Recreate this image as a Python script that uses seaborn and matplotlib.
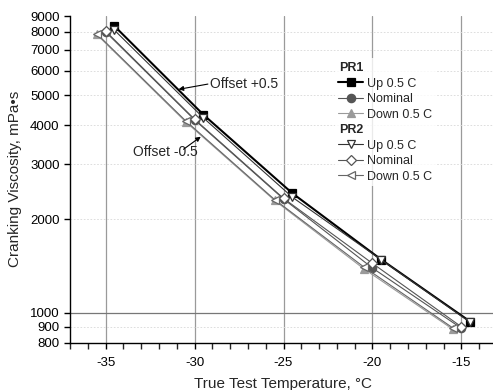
import matplotlib
matplotlib.use("Agg")
import matplotlib.pyplot as plt
from matplotlib.lines import Line2D
from matplotlib.ticker import FixedLocator, MultipleLocator
import seaborn as sns
import pandas as pd

sns.set_style("white")
plt.rcParams['font.family'] = ['Liberation Sans', 'DejaVu Sans']

# Data
pr1_up_t = [-34.5, -29.5, -24.5, -19.5, -14.5]
pr1_up_v = [8350, 4330, 2420, 1480, 935]
pr1_nom_t = [-35.0, -30.0, -25.0, -20.0, -15.0]
pr1_nom_v = [8000, 4170, 2320, 1391, 890]
pr1_down_t = [-35.5, -30.5, -25.5, -20.5, -15.5]
pr1_down_v = [7850, 4110, 2295, 1385, 885]

pr2_up_t = [-34.5, -29.5, -24.5, -19.5, -14.5]
pr2_up_v = [8100, 4230, 2350, 1477, 930]
pr2_nom_t = [-35.0, -30.0, -25.0, -20.0, -15.0]
pr2_nom_v = [8050, 4190, 2331, 1440, 900]
pr2_down_t = [-35.5, -30.5, -25.5, -20.5, -15.5]
pr2_down_v = [7900, 4140, 2310, 1404, 894]

y_ticks = [800, 900, 1000, 2000, 3000, 4000, 5000, 6000, 7000, 8000, 9000]
x_ticks = [-35, -30, -25, -20, -15]

fig = plt.figure(figsize=(4.93, 3.90), dpi=100)
ax = fig.add_axes([70/493, 1 - 342.7/390, (497 - 70)/493, (342.7 - 16)/390])

series = [
    (pr1_up_t, pr1_up_v, 's', '#000000', '#000000', 1.5, 'Up 0.5 C'),
    (pr1_nom_t, pr1_nom_v, 'o', '#555555', '#555555', 0.8, 'Nominal'),
    (pr1_down_t, pr1_down_v, '^', '#9a9a9a', '#9a9a9a', 0.8, 'Down 0.5 C'),
    (pr2_up_t, pr2_up_v, 'v', '#333333', 'white', 0.8, 'Up 0.5 C'),
    (pr2_nom_t, pr2_nom_v, 'D', '#555555', 'white', 0.8, 'Nominal'),
    (pr2_down_t, pr2_down_v, '<', '#666666', 'white', 0.8, 'Down 0.5 C'),
]

handles = []
for i, (t, v, m, c, fc, lw, lab) in enumerate(series):
    df = pd.DataFrame({'t': t, 'v': v})
    ms = 6 if m != 'D' else 5.5
    sns.lineplot(data=df, x='t', y='v', ax=ax, color=c, lw=lw, marker=m,
                 markersize=ms, markerfacecolor=fc, markeredgecolor=c,
                 markeredgewidth=0.9, zorder=3 + i, legend=False)
    handles.append(Line2D([], [], color=c, lw=lw, marker=m, markersize=ms,
                          markerfacecolor=fc, markeredgecolor=c, markeredgewidth=0.9))

ax.set_yscale('log')
ax.set_ylim(800, 9000)
ax.set_xlim(-37, -13)
ax.yaxis.set_major_locator(FixedLocator(y_ticks))
ax.yaxis.set_minor_locator(FixedLocator([]))
ax.set_yticklabels([str(v) for v in y_ticks])
ax.xaxis.set_major_locator(FixedLocator(x_ticks))
ax.xaxis.set_minor_locator(MultipleLocator(1))
ax.set_xticklabels([str(v) for v in x_ticks])

# grid
for xv in x_ticks:
    ax.axvline(xv, color='#9a9a9a', lw=0.9, zorder=1)
for yv in y_ticks:
    if yv == 1000:
        ax.axhline(yv, color='#777777', lw=0.9, zorder=1)
    elif yv not in (800, 9000):
        ax.axhline(yv, color='#d8d8d8', lw=0.6, ls=(0, (2, 2)), zorder=1)

for s in ['top', 'right']:
    ax.spines[s].set_visible(False)
for s in ['left', 'bottom']:
    ax.spines[s].set_color('black')
    ax.spines[s].set_linewidth(1.0)

ax.tick_params(axis='both', which='major', direction='out', length=4, width=1,
               labelsize=9.5, colors='black', left=True, bottom=True)
ax.tick_params(axis='x', which='minor', direction='out', length=4, width=1, bottom=True)
ax.tick_params(axis='x', pad=6)

ax.set_xlabel('True Test Temperature, \u00b0C', fontsize=11, labelpad=6)
ax.set_ylabel('Cranking Viscosity, mPa\u2022s', fontsize=11, labelpad=6)

# annotations
arrow_kw = dict(arrowstyle='-|>', color='black', lw=0.8, shrinkA=0, shrinkB=0,
                mutation_scale=7)
ax.text(-29.15, 5435, 'Offset +0.5', fontsize=10, ha='left', va='center', zorder=10)
ax.annotate('', xy=(-30.9, 5227), xytext=(-29.25, 5435), arrowprops=arrow_kw, zorder=10)
ax.text(-33.45, 3286, 'Offset -0.5', fontsize=10, ha='left', va='center', zorder=10)
ax.annotate('', xy=(-29.65, 3680), xytext=(-30.62, 3353), arrowprops=arrow_kw, zorder=10)

blank = Line2D([], [], color='none')
leg_handles = [blank] + handles[:3] + [blank] + handles[3:]
leg_labels = ['PR1'] + [s[6] for s in series[:3]] + ['PR2'] + [s[6] for s in series[3:]]
leg = ax.legend(leg_handles, leg_labels, loc='upper left',
                bbox_to_anchor=(0.62, 0.87),
                frameon=True, fontsize=9, handlelength=2.0, handletextpad=0.3,
                labelspacing=0.28, borderpad=0.3, borderaxespad=0)
leg.get_frame().set_facecolor('white')
leg.get_frame().set_edgecolor('none')
leg.set_zorder(20)
for txt in leg.get_texts():
    if txt.get_text() in ('PR1', 'PR2'):
        txt.set_fontweight('bold')
        txt.set_x(-28)

fig.savefig('out.png', dpi=100)
